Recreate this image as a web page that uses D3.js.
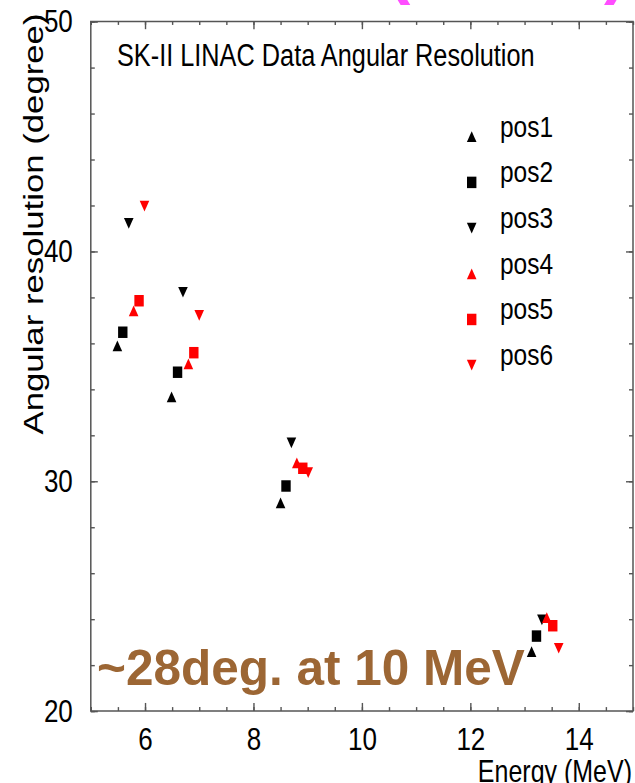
<!DOCTYPE html>
<html>
<head>
<meta charset="utf-8">
<script src="https://cdn.jsdelivr.net/npm/d3@7"></script>
<style>
  html, body { margin: 0; padding: 0; background: #fff; }
  svg { display: block; font-family: "Liberation Sans", Arial, sans-serif; }
</style>
</head>
<body>
<div id="app"></div>
<script>
// data
const seriesNames = ["pos1", "pos2", "pos3", "pos4", "pos5", "pos6"];
const energies = [
  [5.49, 6.49, 8.50, 13.13],
  [5.59, 6.60, 8.60, 13.22],
  [5.70, 6.70, 8.70, 13.32],
  [5.79, 6.80, 8.80, 13.41],
  [5.89, 6.90, 8.91, 13.52],
  [5.99, 7.00, 9.01, 13.63]
];
const angles = [
  [35.89, 33.67, 29.06, 22.58],
  [36.48, 34.74, 29.79, 23.26],
  [41.22, 38.22, 31.67, 23.96],
  [37.41, 35.10, 30.80, 24.06],
  [37.85, 35.59, 30.56, 23.71],
  [41.97, 37.21, 30.37, 22.73]
];
const xMajorTicks = [6, 8, 10, 12, 14];
const yMajorTicks = [20, 30, 40, 50];
const xMinorTicks = d3.range(5, 15.01, 0.5);
const yMinorTicks = d3.range(20, 50.01, 2);

const colors = ["#000", "#000", "#000", "#f00", "#f00", "#f00"];
const shapes = ["up", "square", "down", "up", "square", "down"];

const width = 635;
const height = 783;
const stretch = 1.22; // the plot itself is stretched vertically

const svg = d3
  .select("#app")
  .append("svg")
  .attr("width", width)
  .attr("height", height);

const plot = svg.append("g").attr("transform", `scale(1, ${stretch})`);

const xScale = d3.scaleLinear().domain([5, 15]).range([90.8, 633]);
const yScale = d3
  .scaleLinear()
  .domain([20, 50])
  .range([711 / stretch, 21.5 / stretch]);

const axisColor = "#555";

function styleAxis(g) {
  g.select(".domain").remove();
  g.selectAll("line")
    .attr("stroke", axisColor)
    .attr("stroke-width", 1.4)
    .attr("vector-effect", "non-scaling-stroke");
  g.selectAll("text")
    .attr("fill", "#000")
    .attr("font-size", 26)
    .attr("font-family", "Liberation Sans, Arial, sans-serif");
}

const bottomY = yScale(20);
const topY = yScale(50);

// bottom axis
plot
  .append("g")
  .attr("transform", `translate(0, ${bottomY})`)
  .call(d3.axisBottom(xScale).tickValues(xMinorTicks).tickSize(-3.2).tickFormat(""))
  .call(styleAxis);
plot
  .append("g")
  .attr("id", "x-axis")
  .attr("transform", `translate(0, ${bottomY})`)
  .call(
    d3.axisBottom(xScale).tickValues(xMajorTicks).tickSize(-6.6).tickPadding(13).tickFormat(d3.format("d"))
  )
  .call(styleAxis)
  .call((g) => g.selectAll("text").attr("dy", "0.72em"));

// top axis
plot
  .append("g")
  .attr("transform", `translate(0, ${topY})`)
  .call(d3.axisTop(xScale).tickValues(xMinorTicks).tickSize(-2.8).tickFormat(""))
  .call(styleAxis);
plot
  .append("g")
  .attr("transform", `translate(0, ${topY})`)
  .call(d3.axisTop(xScale).tickValues(xMajorTicks).tickSize(-6.3).tickFormat(""))
  .call(styleAxis);

// left axis
plot
  .append("g")
  .attr("transform", `translate(${xScale(5)}, 0)`)
  .call(d3.axisLeft(yScale).tickValues(yMinorTicks).tickSize(-4).tickFormat(""))
  .call(styleAxis);
plot
  .append("g")
  .attr("id", "y-axis")
  .attr("transform", `translate(${xScale(5)}, 0)`)
  .call(d3.axisLeft(yScale).tickValues(yMajorTicks).tickSize(-7).tickPadding(18).tickFormat(d3.format("d")))
  .call(styleAxis);

// right axis
plot
  .append("g")
  .attr("transform", `translate(${xScale(15)}, 0)`)
  .call(d3.axisRight(yScale).tickValues(yMinorTicks).tickSize(-4).tickFormat(""))
  .call(styleAxis);
plot
  .append("g")
  .attr("transform", `translate(${xScale(15)}, 0)`)
  .call(d3.axisRight(yScale).tickValues(yMajorTicks).tickSize(-7).tickFormat(""))
  .call(styleAxis);

// frame
plot
  .append("rect")
  .attr("x", xScale(5))
  .attr("y", topY)
  .attr("width", xScale(15) - xScale(5))
  .attr("height", bottomY - topY)
  .attr("fill", "none")
  .attr("stroke", axisColor)
  .attr("stroke-width", 1.5)
  .attr("vector-effect", "non-scaling-stroke");

// markers
const markerW = 9.6;
const markerH = 8.8;
function markerPath(shape) {
  const w = markerW / 2;
  const h = markerH / 2;
  if (shape === "up") return `M0,${-h}L${w},${h}L${-w},${h}Z`;
  if (shape === "down") return `M0,${h}L${w},${-h}L${-w},${-h}Z`;
  const s = 4.7;
  return `M${-s},${-s}H${s}V${s}H${-s}Z`;
}

const points = [];
seriesNames.forEach((name, i) => {
  energies[i].forEach((e, j) => {
    points.push({ series: i, energy: e, angle: angles[i][j] });
  });
});

plot
  .append("g")
  .selectAll("path")
  .data(points)
  .enter()
  .append("path")
  .attr("d", (d) => markerPath(shapes[d.series]))
  .attr("transform", (d) => `translate(${xScale(d.energy)}, ${yScale(d.angle)})`)
  .attr("fill", (d) => colors[d.series]);

// title
plot
  .append("text")
  .text("SK-II LINAC Data Angular Resolution")
  .attr("x", 117)
  .attr("y", 53.8)
  .attr("font-size", 25.3)
  .attr("fill", "#000");

// axis titles
plot
  .append("text")
  .text("Angular resolution (degree)")
  .attr("transform", `translate(43, ${224 / stretch}) rotate(-90)`)
  .attr("text-anchor", "middle")
  .attr("font-size", 28.5)
  .attr("fill", "#000");

plot
  .append("text")
  .text("Energy (MeV)")
  .attr("x", 632)
  .attr("y", 782 / stretch)
  .attr("text-anchor", "end")
  .attr("font-size", 25)
  .attr("fill", "#000");

// legend
const legend = plot.append("g").attr("id", "legend");
const legendTop = 136.7 / stretch;
const legendStep = 37.45;

legend
  .selectAll("path")
  .data(seriesNames)
  .enter()
  .append("path")
  .attr("d", (d, i) => markerPath(shapes[i]))
  .attr("transform", (d, i) => `translate(471.7, ${legendTop + i * legendStep})`)
  .attr("fill", (d, i) => colors[i]);

legend
  .selectAll("text")
  .data(seriesNames)
  .enter()
  .append("text")
  .text((d) => d)
  .attr("x", 500)
  .attr("y", (d, i) => legendTop + i * legendStep)
  .attr("font-size", 24.5)
  .attr("fill", "#000");

// slide overlays (not stretched)
svg
  .append("text")
  .text("~28deg. at 10 MeV")
  .attr("x", 97)
  .attr("y", 685)
  .attr("font-size", 49.5)
  .attr("font-weight", "bold")
  .attr("fill", "#9c6634");

svg
  .append("text")
  .text("(")
  .attr("x", 387)
  .attr("y", -10)
  .attr("font-size", 70)
  .attr("font-weight", "bold")
  .attr("fill", "#ff4dff");

svg
  .append("text")
  .text(")")
  .attr("x", 604)
  .attr("y", -10)
  .attr("font-size", 70)
  .attr("font-weight", "bold")
  .attr("fill", "#ff4dff");
</script>
</body>
</html>
